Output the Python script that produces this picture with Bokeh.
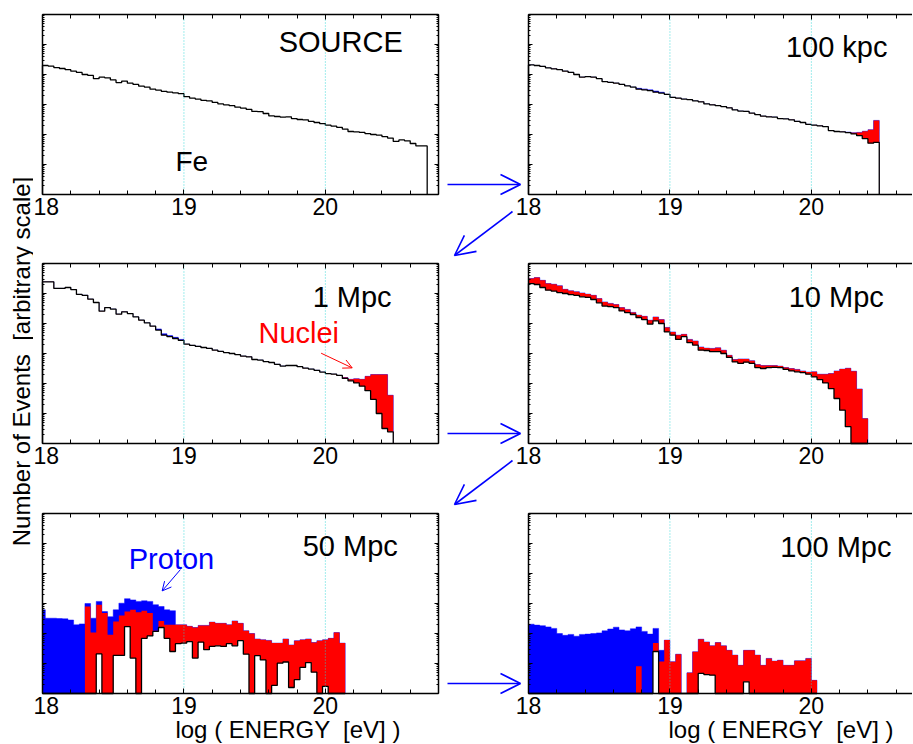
import numpy as np
from math import pi
from bokeh.plotting import figure
from bokeh.layouts import row, column
from bokeh.models import Range1d, LinearAxis, LogAxis, FixedTicker, Label, Arrow, OpenHead
from bokeh.embed import file_html
from bokeh.resources import INLINE

# ---------------------------------------------------------------- data
# log10(number of events) per 0.04-decade energy bin (arbitrary normalisation)
BIN_WIDTH = 0.04
energy_ticks = [18, 19, 20]
energy_tick_labels = ["18", "19", "20"]
panel_names = ["SOURCE", "100 kpc", "1 Mpc", "10 Mpc", "50 Mpc", "100 Mpc"]
bin_start = [18.00, 18.00, 18.00, 18.00, 17.98, 18.00]

source_fe = [4.30, 4.28, 4.23, 4.20, 4.16, 4.11, 4.07, 4.00, 3.97, 3.86,
             3.91, 3.89, 3.82, 3.73, 3.78, 3.71, 3.67, 3.61, 3.58, 3.51,
             3.48, 3.44, 3.41, 3.39, 3.36, 3.26, 3.21, 3.18, 3.14, 3.12,
             3.07, 3.02, 2.99, 2.96, 2.91, 2.88, 2.84, 2.77, 2.76, 2.70,
             2.62, 2.60, 2.58, 2.59, 2.53, 2.50, 2.49, 2.44, 2.40, 2.36,
             2.31, 2.28, 2.24, 2.18, 2.10, 2.09, 2.07, 2.03, 2.00, 1.98,
             1.93, 1.88, 1.77, 1.82, 1.79, 1.70, 1.62, 1.62]

kpc100_fe = [4.32, 4.30, 4.27, 4.22, 4.19, 4.16, 4.11, 4.07, 4.00, 3.91,
             3.93, 3.91, 3.86, 3.76, 3.74, 3.71, 3.67, 3.62, 3.58, 3.51,
             3.49, 3.46, 3.41, 3.38, 3.34, 3.24, 3.21, 3.18, 3.16, 3.12,
             3.09, 3.02, 2.99, 2.96, 2.93, 2.89, 2.82, 2.78, 2.77, 2.71,
             2.66, 2.61, 2.59, 2.58, 2.53, 2.52, 2.49, 2.44, 2.40, 2.34,
             2.31, 2.29, 2.26, 2.13, 2.10, 2.09, 2.06, 2.02, 1.96, 1.86,
             1.71, 1.74]
kpc100_nuclei = [4.32, 4.30, 4.27, 4.22, 4.19, 4.16, 4.11, 4.07, 4.00, 3.91,
                 3.93, 3.91, 3.86, 3.76, 3.74, 3.71, 3.67, 3.62, 3.58, 3.51,
                 3.49, 3.46, 3.41, 3.38, 3.34, 3.24, 3.21, 3.18, 3.16, 3.12,
                 3.09, 3.02, 2.99, 2.96, 2.93, 2.89, 2.82, 2.78, 2.77, 2.71,
                 2.66, 2.61, 2.59, 2.58, 2.53, 2.52, 2.49, 2.44, 2.40, 2.34,
                 2.31, 2.29, 2.26, 2.13, 2.10, 2.09, 2.08, 2.06, 2.07, 2.11,
                 2.16, 2.47]
kpc100_total = [4.32, 4.30, 4.27, 4.22, 4.19, 4.16, 4.11, 4.07, 4.00, 3.91,
                3.93, 3.91, 3.86, 3.76, 3.74, 3.71, 3.67, 3.62, 3.58, 3.54,
                3.52, 3.49, 3.45, 3.41, 3.34, 3.24, 3.21, 3.18, 3.16, 3.12,
                3.09, 3.02, 2.99, 2.96, 2.93, 2.89, 2.82, 2.78, 2.77, 2.71,
                2.66, 2.61, 2.59, 2.58, 2.53, 2.52, 2.49, 2.44, 2.40, 2.34,
                2.31, 2.29, 2.26, 2.13, 2.10, 2.09, 2.08, 2.06, 2.07, 2.11,
                2.16, 2.47]

mpc1_fe = [5.39, 5.39, 5.17, 5.17, 5.20, 5.13, 4.97, 4.94, 4.81, 4.70,
           4.41, 4.53, 4.48, 4.31, 4.39, 4.33, 4.22, 4.11, 4.02, 3.91,
           3.78, 3.61, 3.56, 3.50, 3.44, 3.31, 3.27, 3.24, 3.20, 3.17,
           3.11, 3.07, 3.03, 3.00, 2.96, 2.91, 2.89, 2.80, 2.78, 2.73,
           2.70, 2.64, 2.58, 2.60, 2.60, 2.56, 2.51, 2.48, 2.44, 2.38,
           2.33, 2.31, 2.27, 2.17, 2.09, 2.02, 1.91, 1.76, 1.47, 1.00,
           0.50, 0.39]
mpc1_nuclei = [5.39, 5.39, 5.17, 5.17, 5.20, 5.13, 4.97, 4.94, 4.81, 4.70,
               4.41, 4.53, 4.48, 4.31, 4.39, 4.33, 4.22, 4.11, 4.02, 3.91,
               3.78, 3.61, 3.56, 3.50, 3.44, 3.31, 3.27, 3.24, 3.20, 3.17,
               3.11, 3.07, 3.03, 3.00, 2.96, 2.91, 2.89, 2.80, 2.78, 2.73,
               2.70, 2.64, 2.58, 2.60, 2.60, 2.56, 2.51, 2.48, 2.44, 2.38,
               2.33, 2.31, 2.27, 2.20, 2.14, 2.16, 2.14, 2.24, 2.30, 2.30,
               2.30, 1.61]
mpc1_total = [5.39, 5.39, 5.17, 5.17, 5.20, 5.13, 4.97, 4.94, 4.81, 4.70,
              4.41, 4.53, 4.48, 4.31, 4.39, 4.33, 4.22, 4.11, 4.02, 3.91,
              3.82, 3.66, 3.60, 3.54, 3.47, 3.31, 3.27, 3.24, 3.20, 3.17,
              3.11, 3.07, 3.03, 3.00, 2.96, 2.91, 2.89, 2.80, 2.78, 2.73,
              2.70, 2.64, 2.58, 2.60, 2.60, 2.56, 2.51, 2.48, 2.44, 2.38,
              2.33, 2.31, 2.27, 2.20, 2.14, 2.16, 2.14, 2.24, 2.30, 2.30,
              2.30, 1.61]

mpc10_fe = [5.33, 5.30, 5.20, 5.11, 5.08, 5.03, 5.00, 4.96, 4.94, 4.89,
            4.87, 4.80, 4.69, 4.58, 4.56, 4.53, 4.42, 4.36, 4.30, 4.20,
            4.13, 3.98, 4.09, 4.00, 3.72, 3.61, 3.47, 3.56, 3.36, 3.28,
            3.11, 3.10, 3.06, 3.06, 3.00, 2.87, 2.72, 2.67, 2.71, 2.67,
            2.53, 2.50, 2.53, 2.54, 2.53, 2.47, 2.42, 2.39, 2.36, 2.31,
            2.22, 2.13, 2.02, 1.83, 1.50, 1.11, 0.56, 0, 0, 0]
mpc10_nuclei = [5.50, 5.53, 5.44, 5.33, 5.31, 5.26, 5.14, 5.09, 5.06, 5.02,
                4.98, 4.94, 4.83, 4.72, 4.67, 4.63, 4.53, 4.47, 4.37, 4.28,
                4.24, 4.11, 4.22, 4.13, 3.87, 3.72, 3.61, 3.64, 3.47, 3.42,
                3.22, 3.18, 3.17, 3.19, 3.11, 2.94, 2.80, 2.82, 2.82, 2.76,
                2.63, 2.60, 2.60, 2.60, 2.58, 2.53, 2.50, 2.47, 2.42, 2.38,
                2.39, 2.31, 2.31, 2.33, 2.42, 2.48, 2.51, 2.41, 1.82, 0.83]
mpc10_total = [5.50, 5.53, 5.44, 5.33, 5.31, 5.26, 5.14, 5.09, 5.06, 5.02,
               4.98, 4.94, 4.83, 4.72, 4.67, 4.63, 4.53, 4.47, 4.37, 4.28,
               4.24, 4.11, 4.22, 4.13, 3.87, 3.72, 3.61, 3.64, 3.47, 3.42,
               3.22, 3.18, 3.17, 3.19, 3.11, 2.94, 2.80, 2.82, 2.82, 2.76,
               2.63, 2.60, 2.60, 2.60, 2.58, 2.53, 2.50, 2.47, 2.42, 2.38,
               2.39, 2.31, 2.31, 2.33, 2.42, 2.48, 2.51, 2.41, 1.82, 0.83]

mpc50_fe = [0, 0, 0, 0, 0, 0, 0, 0, 0, 0,
            1.32, 0, 0, 1.27, 1.27, 2.23, 1.18, 0, 1.84, 1.92,
            2.07, 2.20, 1.84, 1.40, 1.66, 1.68, 1.73, 1.18, 1.71, 1.46,
            1.57, 1.59, 1.57, 1.66, 1.59, 1.76, 1.31, 0, 1.26, 1.12,
            0, 0.27, 1.01, 1.05, 0.20, 0.46, 0.87, 1.03, 0.71, 0,
            0.24, 0, 0, 0]
mpc50_nuclei = [0, 0, 0, 0, 0, 0, 0, 0, 2.90, 2.03,
                2.96, 2.68, 1.96, 2.40, 2.60, 2.73, 2.79, 2.71, 2.76, 2.68,
                2.09, 2.42, 2.29, 2.29, 2.29, 2.29, 2.24, 2.20, 2.27, 2.27,
                2.38, 2.34, 2.34, 2.29, 2.42, 2.34, 2.09, 2.00, 1.82, 1.79,
                1.77, 1.68, 1.68, 1.82, 1.62, 1.76, 1.79, 1.82, 1.70, 1.76,
                1.79, 1.84, 2.03, 1.68]
mpc50_total = [2.79, 2.51, 2.51, 2.50, 2.49, 2.45, 2.29, 2.32, 3.00, 2.51,
               3.07, 2.73, 2.56, 2.79, 3.01, 3.16, 3.12, 3.07, 3.09, 3.07,
               2.96, 2.90, 2.79, 2.76, 2.29, 2.29, 2.24, 2.20, 2.27, 2.27,
               2.38, 2.34, 2.34, 2.29, 2.42, 2.34, 2.09, 2.00, 1.82, 1.79,
               1.77, 1.68, 1.68, 1.82, 1.62, 1.76, 1.79, 1.82, 1.70, 1.76,
               1.79, 1.84, 2.03, 1.68]

mpc100_fe = [0, 0, 0, 0, 0, 0, 0, 0, 0, 0,
             0, 0, 0, 0, 0, 0, 0, 0, 0, 0,
             0, 0, 1.40, 0, 0, 0, 0, 0, 0, 0,
             0.67, 0.63, 0.61, 0, 0, 0, 0, 0, 0.39, 0,
             0, 0, 0, 0, 0, 0, 0, 0, 0, 0,
             0]
mpc100_nuclei = [0, 0, 0, 0, 0, 0, 0, 0, 0, 0,
                 0, 0, 0, 0, 0, 0, 0, 0, 0, 0.91,
                 0, 0, 1.68, 1.07, 1.78, 1.06, 1.31, 0, 0.69, 1.39,
                 1.81, 1.72, 1.59, 1.70, 1.59, 1.44, 1.28, 0.94, 1.44, 1.44,
                 1.28, 0.94, 1.17, 1.08, 1.11, 0.94, 0.94, 1.09, 1.09, 1.17,
                 0.44]
mpc100_total = [2.31, 2.28, 2.26, 2.22, 2.17, 2.00, 1.94, 1.97, 1.91, 1.97,
                1.98, 2.00, 2.02, 2.09, 2.15, 2.21, 2.12, 2.09, 2.16, 2.22,
                2.07, 1.98, 2.17, 1.44, 1.78, 1.06, 1.31, 0, 0.69, 1.39,
                1.81, 1.72, 1.59, 1.70, 1.59, 1.44, 1.28, 0.94, 1.44, 1.44,
                1.28, 0.94, 1.17, 1.08, 1.11, 0.94, 0.94, 1.09, 1.09, 1.17,
                0.44]

fe_sets = [source_fe, kpc100_fe, mpc1_fe, mpc10_fe, mpc50_fe, mpc100_fe]
nuclei_sets = [None, kpc100_nuclei, mpc1_nuclei, mpc10_nuclei, mpc50_nuclei, mpc100_nuclei]
total_sets = [None, kpc100_total, mpc1_total, mpc10_total, mpc50_total, mpc100_total]

# ---------------------------------------------------------------- layout / style
FONT = "Liberation Sans"
BLUE = "#0000ff"
RED = "#ff0000"
CYAN = "#22d4d4"
NBSP = "\u00a0"
S = 396 / 2.8          # px per decade of energy
D = 30.0               # px per decade of counts
Y_BOTTOM, Y_TOP = 1.0, 1e6
PANEL_H = 180
ROW_H = [258, 250, 235]
ROW_TOP = [14, 5, 5]
STRIP_W = 33
COL_W = [407, 472]
COL_PAD = [9, 88]

minor_x = [round(18 + 0.2 * i, 1) for i in range(1, 15) if i % 5]
minor_y = [m * 10.0 ** k for k in range(6) for m in range(2, 10)]
decades = [10.0 ** k for k in range(7)]

# (left x, baseline in decades above the panel floor)
label_pos = [(19.67, 5.10), (19.82, 4.93), (19.91, 4.87),
             (19.84, 4.87), (19.84, 4.93), (19.78, 4.90)]


def steps(start, vals):
    v = np.asarray(vals, dtype=float)
    edges = np.clip(start + BIN_WIDTH * np.arange(len(v) + 1), 18.0, None)
    counts = np.power(10.0, v)
    xs = np.repeat(edges, 2)
    ys = np.concatenate([[Y_BOTTOM], np.repeat(counts, 2), [Y_BOTTOM]])
    return xs, ys


def style_axis(ax, ticks, labels, tick_major, tick_minor):
    ax.axis_line_color = "black"
    ax.axis_line_width = 1.5
    ax.major_tick_line_color = "black"
    ax.minor_tick_line_color = "black"
    ax.major_tick_line_width = 1
    ax.minor_tick_line_width = 1
    ax.major_tick_in = tick_major
    ax.major_tick_out = 0
    ax.minor_tick_in = tick_minor
    ax.minor_tick_out = 0
    ax.major_label_text_font = FONT
    ax.major_label_text_font_size = "23px"
    ax.major_label_text_color = "black"
    if labels is not None:
        ax.major_label_overrides = dict(zip(ticks, labels))
        ax.major_label_standoff = 3
    else:
        ax.major_label_overrides = {t: "" for t in ticks}
        ax.major_label_standoff = 0


def make_panel(i):
    col, r = i % 2, i // 2
    W, pad, H, top = COL_W[col], COL_PAD[col], ROW_H[r], ROW_TOP[r]
    below = H - top - PANEL_H
    x0, x1 = 18 - pad / S, 18 + (W - pad) / S
    y0, y1 = 10 ** (-below / D), 10 ** (6 + top / D)
    p = figure(width=W, height=H, title=None, x_range=Range1d(x0, x1),
               y_range=Range1d(y0, y1), y_axis_type="log",
               x_axis_location=None, y_axis_location=None,
               toolbar_location=None, output_backend="svg", min_border=0,
               outline_line_color=None, background_fill_color="white",
               border_fill_color="white")
    p.xgrid.visible = False
    p.ygrid.visible = False
    xmax = 20.8 if col == 0 else x1

    start = bin_start[i]
    if total_sets[i] is not None:
        xs, ys = steps(start, total_sets[i])
        p.patch(xs, ys, fill_color=BLUE, line_color=BLUE, line_alpha=0.45, line_width=1)
    if nuclei_sets[i] is not None:
        xs, ys = steps(start, nuclei_sets[i])
        p.patch(xs, ys, fill_color=RED, line_color=None)
    xs, ys = steps(start, fe_sets[i])
    p.patch(xs, ys, fill_color="white", line_color=None)
    p.line(xs, ys, line_color="black", line_width=1.3)

    gx = energy_ticks[1:]
    p.segment(x0=gx, y0=[Y_BOTTOM] * len(gx), x1=gx, y1=[Y_TOP] * len(gx),
              line_color=CYAN, line_dash="1 2", line_width=1, line_alpha=0.85)

    bottom = LinearAxis(ticker=FixedTicker(ticks=energy_ticks, minor_ticks=minor_x),
                        fixed_location=Y_BOTTOM, bounds=(18, xmax))
    style_axis(bottom, energy_ticks, energy_tick_labels, 5, 4)
    p.add_layout(bottom, "below")
    topax = LinearAxis(ticker=FixedTicker(ticks=energy_ticks, minor_ticks=minor_x),
                       fixed_location=Y_TOP, bounds=(18, xmax))
    style_axis(topax, energy_ticks, None, 5, 4)
    p.add_layout(topax, "above")
    left = LogAxis(ticker=FixedTicker(ticks=decades, minor_ticks=minor_y),
                   fixed_location=18, bounds=(Y_BOTTOM, Y_TOP))
    style_axis(left, decades, None, 4, 2)
    p.add_layout(left, "left")
    if col == 0:
        right = LogAxis(ticker=FixedTicker(ticks=decades, minor_ticks=minor_y),
                        fixed_location=20.8, bounds=(Y_BOTTOM, Y_TOP))
        style_axis(right, decades, None, 4, 2)
        p.add_layout(right, "right")

    lx, ly = label_pos[i]
    p.add_layout(Label(x=lx, y=10 ** ly, text=panel_names[i], text_font=FONT,
                       text_font_size="29px", text_color="black",
                       text_align="left", text_baseline="alphabetic"))

    if col == 1:
        # arrow from the left panel to this one
        p.add_layout(Arrow(end=OpenHead(size=20, line_color=BLUE, line_width=1.6),
                           x_start=18 - 81 / S, y_start=10 ** (10 / D),
                           x_end=18 - 8 / S, y_end=10 ** (10 / D),
                           line_color=BLUE, line_width=1.6))
        if r < 2:
            p.add_layout(Arrow(end=OpenHead(size=20, line_color=BLUE, line_width=1.6),
                               x_start=18 - 16 / S, y_start=10 ** (-17 / D),
                               x_end=18 - 74 / S, y_end=10 ** (-61 / D),
                               line_color=BLUE, line_width=1.6))
    if r == 2:
        p.add_layout(Label(x=18.94 if col == 0 else 18.99, y=10 ** (-36 / D),
                           text="log ( ENERGY " + NBSP + "[eV] )", text_font=FONT,
                           text_font_size="24px", text_color="black",
                           text_align="left", text_baseline="alphabetic"))
    return p


panels = [make_panel(i) for i in range(6)]

# extra annotations
panels[0].add_layout(Label(x=18.94, y=10 ** 1.11, text="Fe", text_font=FONT,
                           text_font_size="28px", text_color="black",
                           text_align="left", text_baseline="alphabetic"))
panels[2].add_layout(Label(x=19.527, y=10 ** 3.70, text="Nuclei", text_font=FONT,
                           text_font_size="29px", text_color=RED,
                           text_align="left", text_baseline="alphabetic"))
panels[2].add_layout(Arrow(end=OpenHead(size=9, line_color=RED, line_width=1),
                           x_start=19.97, y_start=10 ** 3.01, x_end=20.19, y_end=10 ** 2.52,
                           line_color=RED, line_width=1))
panels[4].add_layout(Label(x=18.61, y=10 ** 4.49, text="Proton", text_font=FONT,
                           text_font_size="29px", text_color=BLUE,
                           text_align="left", text_baseline="alphabetic"))
panels[4].add_layout(Arrow(end=OpenHead(size=9, line_color=BLUE, line_width=1),
                           x_start=18.975, y_start=10 ** 4.13, x_end=18.846, y_end=10 ** 3.42,
                           line_color=BLUE, line_width=1))

# strip with the common y-axis title
TOTAL_H = sum(ROW_H)
strip = figure(width=STRIP_W, height=TOTAL_H, title=None,
               x_range=Range1d(0, STRIP_W), y_range=Range1d(TOTAL_H, 0),
               x_axis_location=None, y_axis_location=None, toolbar_location=None,
               output_backend="svg", min_border=0, outline_line_color=None)
strip.xgrid.visible = False
strip.ygrid.visible = False
strip.add_layout(Label(x=20.5, y=361, text="Number of Events " + NBSP + "[arbitrary scale]",
                       angle=pi / 2, text_font=FONT, text_font_size="24px",
                       text_color="black", text_align="center",
                       text_baseline="alphabetic"))

layout = row(strip, column(row(panels[0], panels[1]),
                           row(panels[2], panels[3]),
                           row(panels[4], panels[5])))

open("out.html", "w").write(file_html(layout, INLINE, "UHE iron propagation"))
